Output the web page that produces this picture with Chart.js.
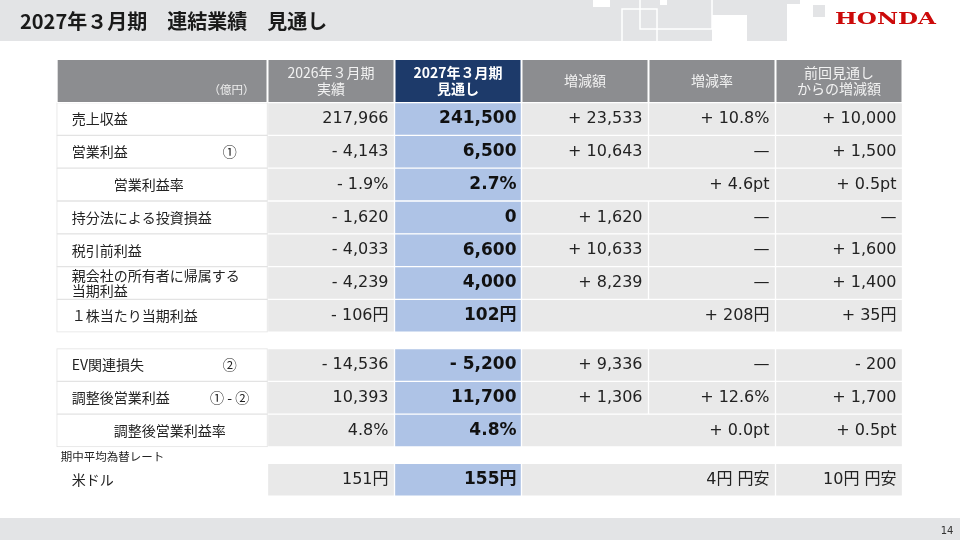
<!DOCTYPE html>
<html lang="ja">
<head>
<meta charset="utf-8">
<title>2027年３月期 連結業績 見通し</title>
<script src="https://cdn.jsdelivr.net/npm/chart.js@4.4.1/dist/chart.umd.min.js"></script>
<style>
  html, body { margin: 0; padding: 0; background: #fff; }
  canvas { display: block; }
</style>
</head>
<body>
<canvas id="sheet" width="960" height="540"></canvas>
<script>
// 2027年３月期 連結業績 見通し（億円）

const rowLabels = ['売上収益', '営業利益', '営業利益率', '持分法による投資損益', '税引前利益',
  ['親会社の所有者に帰属する', '当期利益'], '１株当たり当期利益',
  'EV関連損失', '調整後営業利益', '調整後営業利益率', '米ドル'];
const rowNotes = ['', '①', '', '', '', '', '', '②', '① - ②', '', ''];
const rowKinds = ['amount', 'amount', 'ratio', 'amount', 'amount', 'amount', 'perShare',
  'amount', 'amount', 'ratio', 'fx'];

const columnTitles = [['2026年３月期', '実績'], ['2027年３月期', '見通し'], ['増減額'], ['増減率'],
  ['前回見通し', 'からの増減額']];
const unitLabel = '（億円）';
const fxCaption = '期中平均為替レート';

const actualFY2026 = [217966, -4143, -1.9, -1620, -4033, -4239, -106, -14536, 10393, 4.8, 151];
const forecastFY2027 = [241500, 6500, 2.7, 0, 6600, 4000, 102, -5200, 11700, 4.8, 155];
// null = 増減額と増減率がひとつのセル
const changeAmount = [23533, 10643, null, 1620, 10633, 8239, null, 9336, 1306, null, null];
// null = 「—」
const changeRate = [10.8, null, 4.6, null, null, null, 208, null, 12.6, 0.0, 4];
const vsPrevious = [10000, 1500, 0.5, null, 1600, 1400, 35, -200, 1700, 0.5, 10];

// layout (row slots on the y scale, column edges on the x scale)
const rowSlots = [0, 1, 2, 3, 4, 5, 6, 7.5, 8.5, 9.5, 11];
const headerSlot = -1.16;
const fxCaptionSlot = 10.3;
const labelColumn = [-1.66, 0];
const ROW_PX = 32.8, ROW0_Y = 119;
const COL_PX = 127, COL0_X = 267.5;
const HEADER_PX = 44;

const FONT = '"DejaVu Sans", "Noto Sans CJK JP", sans-serif';
const JP = '"Noto Sans CJK JP", sans-serif';

function num(v, dec) {
  return Math.abs(v).toLocaleString('en-US', {minimumFractionDigits: dec, maximumFractionDigits: dec});
}
function sign(v, plus) {
  return v < 0 ? '- ' : (plus ? '+ ' : '');
}
const levelUnit = {amount: '', ratio: '%', perShare: '円', fx: '円'};
const levelDec = {amount: 0, ratio: 1, perShare: 0, fx: 0};

function fmtLevel(v, kind) {
  return sign(v, false) + num(v, levelDec[kind]) + levelUnit[kind];
}
function fmtChange(v, kind) {
  if (v === null) return '—';
  if (kind === 'fx') return num(v, 0) + '円 円安';
  if (kind === 'ratio') return sign(v, true) + num(v, 1) + 'pt';
  return sign(v, true) + num(v, 0) + levelUnit[kind];
}
function fmtRate(v, kind) {
  if (v === null) return '—';
  if (kind === 'amount') return sign(v, true) + num(v, 1) + '%';
  return fmtChange(v, kind);
}

// cells as floating bars
const headerGray = [{y: headerSlot, x: labelColumn}];
const headerNavy = [{y: headerSlot, x: [1, 2]}];
[0, 2, 3, 4].forEach(c => headerGray.push({y: headerSlot, x: [c, c + 1]}));

const labelCells = [], grayCells = [], blueCells = [];
rowSlots.forEach((slot, i) => {
  if (rowKinds[i] !== 'fx') labelCells.push({y: slot, x: labelColumn});
  grayCells.push({y: slot, x: [0, 1]});
  blueCells.push({y: slot, x: [1, 2]});
  if (changeAmount[i] === null) {
    grayCells.push({y: slot, x: [2, 4]});
  } else {
    grayCells.push({y: slot, x: [2, 3]});
    grayCells.push({y: slot, x: [3, 4]});
  }
  grayCells.push({y: slot, x: [4, 5]});
});

function text(ctx, str, x, y, font, align, color) {
  ctx.font = font;
  ctx.textAlign = align;
  ctx.textBaseline = 'middle';
  ctx.fillStyle = color;
  ctx.fillText(str, x, y);
}

const tablePainter = {
  id: 'tablePainter',
  beforeDraw(chart) {
    const ctx = chart.ctx;
    ctx.save();
    ctx.fillStyle = '#ffffff';
    ctx.fillRect(0, 0, 960, 540);
    // title band
    ctx.fillStyle = '#e3e4e6';
    ctx.fillRect(0, 0, 787, 41);
    ctx.fillRect(813, 5, 12, 12);
    ctx.fillRect(782, 0, 18, 4);
    ctx.fillStyle = '#ffffff';
    ctx.fillRect(712, 15, 35, 26);
    ctx.fillRect(593, 0, 17, 7);
    ctx.fillRect(660, 0, 7, 5);
    ctx.strokeStyle = '#ffffff';
    ctx.lineWidth = 1.5;
    ctx.strokeRect(622, 9, 35, 34);
    ctx.strokeRect(640, -2, 72, 31);
    // footer band
    ctx.fillStyle = '#e3e4e6';
    ctx.fillRect(0, 518, 960, 22);
    text(ctx, '14', 947, 531, '10px ' + FONT, 'center', '#333333');
    text(ctx, '2027年３月期　連結業績　見通し', 20, 21, 'bold 20px ' + JP, 'left', '#1a1a1a');
    // HONDA wordmark
    ctx.font = 'bold 17px "DejaVu Serif", serif';
    const w = ctx.measureText('HONDA').width;
    ctx.translate(835, 20);
    ctx.scale(101 / w, 1.0);
    text(ctx, 'HONDA', 0, 0, 'bold 17px "DejaVu Serif", serif', 'left', '#cc0a0a');
    ctx.restore();
  },
  afterDatasetsDraw(chart) {
    const {ctx, scales: {x, y}} = chart;
    ctx.save();
    const hy = y.getPixelForValue(headerSlot);
    text(ctx, unitLabel, x.getPixelForValue(0) - 13, hy + 9, '11.5px ' + JP, 'right', '#eeeeee');
    columnTitles.forEach((lines, c) => {
      const cx = x.getPixelForValue(c + 0.5);
      const font = (c === 1 ? 'bold ' : '') + '14px ' + JP;
      const color = c === 1 ? '#ffffff' : '#f2f2f2';
      lines.forEach((s, k) => {
        const off = lines.length === 1 ? 0 : (k === 0 ? -8 : 8);
        text(ctx, s, cx, hy + off, font, 'center', color);
      });
    });

    const left = x.getPixelForValue(labelColumn[0]);
    rowSlots.forEach((slot, i) => {
      const cy = y.getPixelForValue(slot);
      const kind = rowKinds[i];
      const label = rowLabels[i];
      const lx = left + (kind === 'ratio' ? 57 : 15);
      if (Array.isArray(label)) {
        text(ctx, label[0], lx, cy - 7.5, '14px ' + JP, 'left', '#222');
        text(ctx, label[1], lx, cy + 7.5, '14px ' + JP, 'left', '#222');
      } else {
        text(ctx, label, lx, cy, '14px ' + JP, 'left', '#222');
      }
      if (rowNotes[i]) text(ctx, rowNotes[i], left + 173, cy, '14px ' + JP, 'center', '#222');

      const right = c => x.getPixelForValue(c) - 6;
      text(ctx, fmtLevel(actualFY2026[i], kind), right(1), cy, '16px ' + FONT, 'right', '#222');
      text(ctx, fmtLevel(forecastFY2027[i], kind), right(2) + 1, cy, 'bold 17px ' + FONT, 'right', '#111');
      if (changeAmount[i] !== null) {
        text(ctx, fmtChange(changeAmount[i], kind), right(3), cy, '16px ' + FONT, 'right', '#222');
      }
      text(ctx, fmtRate(changeRate[i], kind), right(4), cy, '16px ' + FONT, 'right', '#222');
      text(ctx, fmtChange(vsPrevious[i], kind), right(5), cy, '16px ' + FONT, 'right', '#222');
    });
    text(ctx, fxCaption, left + 4, y.getPixelForValue(fxCaptionSlot), '11.5px ' + JP, 'left', '#222');
    ctx.restore();
  }
};

const X_MIN = -COL0_X / COL_PX, X_MAX = (960 - COL0_X) / COL_PX;
const Y_MIN = -ROW0_Y / ROW_PX, Y_MAX = (540 - ROW0_Y) / ROW_PX;

new Chart(document.getElementById('sheet'), {
  type: 'bar',
  data: {
    datasets: [
      {label: 'header', data: headerGray, backgroundColor: '#8c8d90', borderColor: '#ffffff', barPercentage: HEADER_PX / ROW_PX},
      {label: 'header FY2027', data: headerNavy, backgroundColor: '#1d3a6a', borderColor: '#ffffff', barPercentage: HEADER_PX / ROW_PX},
      {label: 'items', data: labelCells, backgroundColor: '#ffffff', borderColor: '#e3e3e3'},
      {label: 'values', data: grayCells, backgroundColor: '#e9e9e9', borderColor: '#ffffff'},
      {label: 'FY2027 forecast', data: blueCells, backgroundColor: '#aec3e6', borderColor: '#ffffff'}
    ]
  },
  options: {
    indexAxis: 'y',
    responsive: false,
    animation: false,
    layout: {padding: 0},
    datasets: {
      bar: {grouped: false, categoryPercentage: 1, barPercentage: 1, borderWidth: 1, borderSkipped: false}
    },
    plugins: {legend: {display: false}, tooltip: {enabled: false}},
    scales: {
      x: {type: 'linear', display: false, offset: false, min: X_MIN, max: X_MAX},
      y: {type: 'linear', display: false, offset: false, reverse: true, min: Y_MIN, max: Y_MAX,
          ticks: {includeBounds: false, stepSize: 1}}
    }
  },
  plugins: [tablePainter]
});
</script>
</body>
</html>
